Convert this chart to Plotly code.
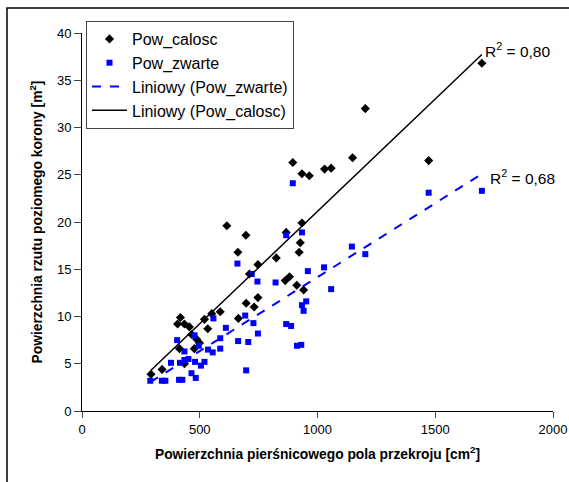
import numpy as np
import plotly.graph_objects as go

# Pow_calosc (black diamonds)
calosc_x = [293, 340, 418, 406, 435, 456, 466, 487, 499, 477, 414, 435, 520, 551, 587,
            534, 664, 697, 615, 696, 662, 747, 711, 825, 867, 934, 927, 922, 863, 881,
            912, 941, 747, 731, 895, 934, 965, 1030, 1058, 1149, 1203, 1472, 1698]
calosc_y = [3.9, 4.4, 9.9, 9.2, 9.2, 8.9, 8.1, 7.6, 7.2, 6.6, 6.6, 5.0, 9.7, 10.3, 10.5,
            8.7, 9.8, 11.4, 19.6, 18.6, 16.8, 15.5, 14.5, 16.2, 18.9, 19.9, 17.8, 16.8, 13.8, 14.2,
            13.3, 12.8, 12.0, 11.0, 26.3, 25.1, 24.9, 25.6, 25.7, 26.8, 32.0, 26.5, 36.8]

# Pow_zwarte (blue squares)
zwarte_x = [290, 339, 354, 378, 404, 412, 426, 416, 435, 435, 452, 465, 483, 480, 478,
            496, 505, 520, 535, 555, 558, 587, 587, 611, 663, 693, 697, 706, 728, 747,
            745, 721, 660, 822, 867, 934, 959, 934, 952, 941, 895, 1028, 1058, 1146, 1203,
            867, 888, 913, 931, 1472, 1698]
zwarte_y = [3.2, 3.2, 3.2, 5.1, 7.5, 3.3, 3.3, 5.1, 6.3, 5.4, 5.5, 4.0, 3.5, 5.2, 8.0,
            6.9, 4.8, 5.2, 6.5, 6.2, 9.8, 6.6, 7.7, 8.8, 7.4, 10.1, 4.3, 7.3, 9.3, 8.2,
            13.7, 14.5, 15.6, 13.6, 18.6, 18.9, 14.8, 11.2, 11.6, 10.6, 24.1, 15.2, 12.9, 17.4, 16.6,
            9.2, 9.0, 6.9, 7.0, 23.1, 23.3]

r2_labels = ["R<sup>2</sup> = 0,80", "R<sup>2</sup> = 0,68"]
x_ticks = [0, 500, 1000, 1500, 2000]
y_ticks = [0, 5, 10, 15, 20, 25, 30, 35, 40]

FONT = "Arial, Liberation Sans, sans-serif"

def fit_line(xs, ys):
    k, b = np.polyfit(xs, ys, 1)
    xx = np.array([min(xs), max(xs)])
    return xx, k * xx + b

cx, cy = fit_line(calosc_x, calosc_y)
zx, zy = fit_line(zwarte_x, zwarte_y)

fig = go.Figure()
fig.add_trace(go.Scatter(x=calosc_x, y=calosc_y, mode="markers", name="Pow_calosc",
                         marker=dict(symbol="diamond", size=7, color="black")))
fig.add_trace(go.Scatter(x=zwarte_x, y=zwarte_y, mode="markers", name="Pow_zwarte",
                         marker=dict(symbol="square", size=6, color="#0000FF")))
fig.add_trace(go.Scatter(x=zx, y=zy, mode="lines", name="Liniowy (Pow_zwarte)",
                         line=dict(color="#0000FF", width=2, dash="dash")))
fig.add_trace(go.Scatter(x=cx, y=cy, mode="lines", name="Liniowy (Pow_calosc)",
                         line=dict(color="black", width=1.5)))

fig.add_annotation(x=cx[1], y=cy[1], text=r2_labels[0], showarrow=False,
                   xanchor="left", yanchor="middle", xshift=1, yshift=4,
                   font=dict(family=FONT, size=15.5, color="black"))
fig.add_annotation(x=zx[1], y=zy[1], text=r2_labels[1], showarrow=False,
                   xanchor="left", yanchor="middle", xshift=6, yshift=-3,
                   font=dict(family=FONT, size=15.5, color="black"))

W, H = 569, 482
L, R, T, B = 82, 16, 33, 71
pw, ph = W - L - R, H - T - B

# outer chart-area border (left/top edges at x=7, y=8, extending past right/bottom)
fig.add_shape(type="rect", xref="paper", yref="paper",
              x0=(7 - L) / pw, x1=(W + 20 - L) / pw,
              y0=-(B + 20) / ph, y1=(ph + T - 8) / ph,
              line=dict(color="black", width=1.5), layer="above")

fig.update_layout(
    width=W, height=H,
    margin=dict(l=L, r=R, t=T, b=B),
    paper_bgcolor="white", plot_bgcolor="white",
    font=dict(family=FONT, color="black"),
    showlegend=True,
    legend=dict(x=(86 - 82) / pw, y=1 + (33 - 21) / ph, xanchor="left", yanchor="top",
                bgcolor="white", bordercolor="#444", borderwidth=1,
                font=dict(family=FONT, size=16, color="black"),
                itemwidth=35),
    xaxis=dict(range=[0, 2000], tickvals=x_ticks, ticks="outside", ticklen=6,
               showline=True, linecolor="black", linewidth=1, showgrid=False, zeroline=False,
               tickfont=dict(family=FONT, size=13, color="black"),
               title=dict(text="Powierzchnia pierśnicowego pola przekroju [cm<sup>2</sup>]",
                          font=dict(family=FONT, size=13.8, color="black", weight="bold"),
                          standoff=13),
               automargin=False),
    yaxis=dict(range=[0, 40], tickvals=y_ticks, ticks="outside", ticklen=7,
               showline=True, linecolor="black", linewidth=1, showgrid=False, zeroline=False,
               tickfont=dict(family=FONT, size=13, color="black"),
               title=dict(text="Powierzchnia rzutu poziomego korony [m<sup>2</sup>]",
                          font=dict(family=FONT, size=13.8, color="black", weight="bold"),
                          standoff=11),
               automargin=False),
)

fig.write_html("out.html", config={"displayModeBar": False},
               post_script="document.body.style.margin='0';")
